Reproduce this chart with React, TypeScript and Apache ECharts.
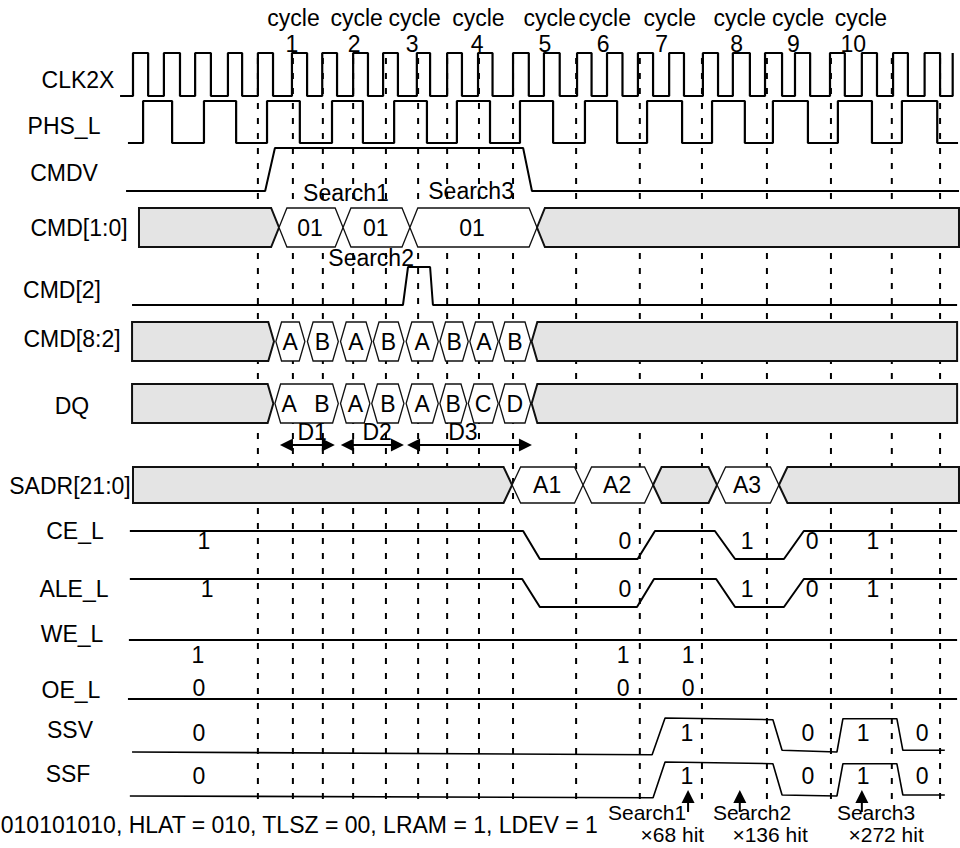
import React, { useEffect, useRef } from "react";
import * as echarts from "echarts";

// ---- time axis: 1 unit = one CLK2X period ----
const T_MIN = -4.217;
const T_MAX = 26.222;
const Y_MIN = 0;
const Y_MAX = 848;

// ---- data (times in CLK2X periods) ----
const cycleWord = "cycle";
const cycleNumbers = ["1", "2", "3", "4", "5", "6", "7", "8", "9", "10"];
const cycleWordTimes = [5.09, 7.09, 8.93, 10.95, 13.21, 14.96, 17.02, 19.24, 21.09, 23.08];
const cycleNumberTimes = [5.04, 7.01, 8.85, 10.91, 13.06, 14.91, 16.76, 19.14, 20.94, 22.84];

const signalNames = ["CLK2X", "PHS_L", "CMDV", "CMD[1:0]", "CMD[2]", "CMD[8:2]", "DQ", "SADR[21:0]", "CE_L", "ALE_L", "WE_L", "OE_L", "SSV", "SSF"];

const clkRises = [0, 0.98, 1.97, 3.01, 3.96, 5.04, 6.0, 6.98, 7.93, 9.0, 9.96, 10.94, 12.05, 13.03, 14.08, 15.03, 16.01, 17.0, 18.07, 19.02, 20.04, 20.99, 22.1, 23.11, 24.1, 25.1, 25.99];
const clkFalls = [0.48, 1.49, 2.47, 3.46, 4.44, 5.52, 6.47, 7.45, 8.4, 9.42, 10.43, 11.4, 12.55, 13.53, 14.54, 15.52, 16.49, 17.47, 18.55, 19.56, 20.58, 21.47, 22.57, 23.59, 24.57, 25.59];
const phsRises = [0.32, 2.25, 4.25, 6.31, 8.28, 10.27, 12.27, 14.33, 16.3, 18.36, 20.29, 22.35, 24.38];
const phsFalls = [1.24, 3.27, 5.29, 7.29, 9.32, 11.32, 13.32, 15.35, 17.41, 19.4, 21.4, 23.43, 25.5];

// [time, level]
const cmdvWave = [[-0.22, 0], [4.19, 0], [4.5, 1], [12.37, 1], [12.65, 0], [26.19, 0]];
const cmd2Wave = [[-0.03, 0], [8.56, 0], [8.72, 1], [9.42, 1], [9.51, 0], [26.13, 0]];
const ceWave = [[-0.1, 1], [12.37, 1], [12.9, 0], [16.0, 0], [16.55, 1], [18.45, 1], [19.09, 0], [20.64, 0], [21.27, 1], [26.13, 1]];
const aleWave = [[-0.1, 1], [12.34, 1], [12.9, 0], [15.98, 0], [16.52, 1], [18.49, 1], [19.09, 0], [20.64, 0], [21.27, 1], [26.13, 1]];
const weWave = [[-0.13, 1], [26.13, 1]];
const oeWave = [[-0.16, 0], [26.13, 0]];
const ssvWave = [[-0.03, 0], [16.46, -0.08], [16.87, 1], [20.29, 0.95], [20.58, 0.05], [22.32, 0], [22.51, 0.98], [24.22, 0.98], [24.41, 0.05], [25.74, 0.05]];
const ssfWave = [[-0.1, 0], [16.49, -0.05], [16.87, 1], [20.29, 0.95], [20.58, 0.03], [22.32, 0], [22.51, 0.95], [24.22, 0.95], [24.41, 0.03], [25.74, 0.03]];

// value labels [time, text]
const ceValues = [[2.25, "1"], [15.6, "0"], [19.47, "1"], [21.53, "0"], [23.46, "1"]];
const aleValues = [[2.35, "1"], [15.6, "0"], [19.47, "1"], [21.53, "0"], [23.46, "1"]];
const weValues = [[2.06, "1"], [15.54, "1"], [17.6, "1"]];
const oeValues = [[2.09, "0"], [15.54, "0"], [17.6, "0"]];
const ssvValues = [[2.09, "0"], [17.56, "1"], [21.4, "0"], [23.15, "1"], [25.02, "0"]];
const ssfValues = [[2.09, "0"], [17.56, "1"], [21.4, "0"], [23.15, "1"], [25.02, "0"]];

// bus segments: [start, end, gray(1)/white(0), flat left, flat right]
const cmd10Segs = [[0.19, 4.63, 1, 1, 0], [4.63, 6.66, 0, 0, 0], [6.66, 8.78, 0, 0, 0], [8.78, 12.81, 0, 0, 0], [12.81, 26.19, 1, 0, 1]];
const cmd82Segs = [[-0.03, 4.47, 1, 1, 0], [4.53, 5.45, 0, 0, 0], [5.53, 6.51, 0, 0, 0], [6.58, 7.57, 0, 0, 0], [7.62, 8.59, 0, 0, 0], [8.66, 9.68, 0, 0, 0], [9.73, 10.63, 0, 0, 0], [10.68, 11.58, 0, 0, 0], [11.61, 12.61, 0, 0, 0], [12.64, 26.13, 1, 0, 1]];
const dqSegs = [[-0.03, 4.45, 1, 1, 0], [4.5, 6.51, 0, 0, 0], [6.58, 7.51, 0, 0, 0], [7.57, 8.59, 0, 0, 0], [8.66, 9.68, 0, 0, 0], [9.73, 10.58, 0, 0, 0], [10.63, 11.58, 0, 0, 0], [11.61, 12.61, 0, 0, 0], [12.64, 26.13, 1, 0, 1]];
const sadrSegs = [[0.0, 12.02, 1, 1, 0], [12.02, 14.27, 0, 0, 0], [14.27, 16.49, 0, 0, 0], [16.49, 18.52, 1, 0, 0], [18.52, 20.48, 0, 0, 0], [20.48, 26.19, 1, 0, 1]];

const cmd10Labels = [[5.61, "01"], [7.7, "01"], [10.75, "01"]];
const cmd82Labels = [[4.98, "A"], [6.01, "B"], [7.07, "A"], [8.1, "B"], [9.17, "A"], [10.18, "B"], [11.13, "A"], [12.11, "B"]];
const dqLabels = [[4.95, "A"], [5.99, "B"], [7.05, "A"], [8.08, "B"], [9.17, "A"], [10.15, "B"], [11.1, "C"], [12.11, "D"]];
const sadrLabels = [[13.13, "A1"], [15.35, "A2"], [19.47, "A3"]];

const gridTimes = [3.96, 5.07, 6.02, 6.98, 8.02, 9.04, 9.96, 10.97, 12.05, 14.05, 16.07, 18.04, 20.1, 22.13, 24.06, 25.59];

const searchCmdLabels = [[6.75, "Search1"], [7.55, "Search2"], [10.72, "Search3"]];
const spanArrows = [[4.66, 6.4], [6.59, 8.59], [8.69, 12.65]];
const spanLabels = [[5.68, "D1"], [7.74, "D2"], [10.46, "D3"]];
const hitArrowTimes = [17.6, 19.24, 23.11];
const hitSearchLabels = [[16.3, "Search1"], [19.63, "Search2"], [23.56, "Search3"]];
const hitCountLabels = [[17.1, "×68 hit"], [20.2, "×136 hit"], [23.88, "×272 hit"]];
const footNote = "010101010, HLAT = 010, TLSZ = 00, LRAM = 1, LDEV = 1";
const footNoteEnd = 14.74;

// ---- layout (pixels on the y scale) ----
const NAME_POS = [[78, 80], [64, 126], [64, 173], [79, 228], [62, 290], [72, 339], [72, 406], [70, 486], [75, 531], [74, 589], [72, 634], [71, 690], [70, 730], [68, 774]];
const ROW = {
  clk: { hi: 53, lo: 96 },
  phs: { hi: 101, lo: 143 },
  cmdv: { hi: 148, lo: 191 },
  cmd2: { hi: 267, lo: 305 },
  ce: { hi: 531, lo: 559, text: 541 },
  ale: { hi: 579, lo: 607, text: 589 },
  we: { hi: 640, lo: 640, text: 655 },
  oe: { hi: 699, lo: 699, text: 688 },
  ssv: { hi: 718, lo: 752, text: 733 },
  ssf: { hi: 762, lo: 796, text: 776 },
};
const BUS = {
  cmd10: { top: 208, bot: 247, slope: 0.25 },
  cmd82: { top: 322, bot: 361, slope: 0.18 },
  dq: { top: 384, bot: 423, slope: 0.18 },
  sadr: { top: 467, bot: 503, slope: 0.27 },
};
const CYCLE_WORD_Y = 18;
const CYCLE_NUM_Y = 44;
const SEARCH_Y = { Search1: 193, Search2: 258, Search3: 191 };
const SPAN_Y = 445;
const SPAN_LABEL_Y = 432;
const HIT_ARROW = { tip: 790, base: 812 };
const HIT_SEARCH_Y = 812;
const HIT_COUNT_Y = 834;
const FOOT_Y = 825;
const DASH = { top: 58, bot: 806 };

const FONT = "'Liberation Sans', Arial, Helvetica, sans-serif";
const FS = 23;
const FS_HIT = 21;

function edgesToWave(start: number, end: number, startLevel: number, rises: number[], falls: number[]) {
  const ev = [...rises.map((t) => [t, 1]), ...falls.map((t) => [t, 0])].sort((a, b) => a[0] - b[0]);
  let lvl = startLevel;
  const pts: number[][] = [[start, lvl]];
  for (const [t, l] of ev) {
    pts.push([t, lvl]);
    pts.push([t, l]);
    lvl = l;
  }
  const last = ev[ev.length - 1][0];
  if (end > last) pts.push([end, lvl]);
  return pts;
}

function textEl(x: number, y: number, text: string, align = "center", size = FS) {
  return {
    type: "text",
    x,
    y,
    style: {
      text,
      fill: "#000",
      fontSize: size,
      fontFamily: FONT,
      align,
      textAlign: align,
      verticalAlign: "middle",
      textVerticalAlign: "middle",
    },
  };
}

export default function App() {
  const ref = useRef<HTMLDivElement>(null);

  useEffect(() => {
    document.body.style.margin = "0";
    if (!ref.current) return;
    const chart = echarts.init(ref.current, undefined, { renderer: "svg" });

    const lineSeries = (pts: number[][], row: { hi: number; lo: number }, width = 2) => ({
      type: "line",
      data: pts.map(([t, l]) => [t, row.lo - l * (row.lo - row.hi)]),
      symbol: "none",
      showSymbol: false,
      lineStyle: { color: "#000", width },
      clip: false,
      silent: true,
      z: 3,
    });

    const busSeries = (segs: number[][], bus: { top: number; bot: number; slope: number }) => ({
      type: "custom",
      data: segs.map((s) => [s[0], s[1], s[2], s[3], s[4]]),
      clip: false,
      silent: true,
      z: 4,
      renderItem: (_p: any, api: any) => {
        const tS = api.value(0), tE = api.value(1), g = api.value(2), fl = api.value(3), fr = api.value(4);
        const a = api.coord([tS, bus.top]);
        const b = api.coord([tE, bus.bot]);
        const xs = a[0], yt = a[1], xe = b[0], yb = b[1];
        const ym = (yt + yb) / 2;
        const s = api.size([bus.slope, 0])[0];
        const pts: number[][] = [];
        if (fl) { pts.push([xs, yb], [xs, yt]); } else { pts.push([xs, ym], [xs + s, yt]); }
        if (fr) { pts.push([xe, yt], [xe, yb]); } else { pts.push([xe - s, yt], [xe, ym], [xe - s, yb]); }
        if (!fl) pts.push([xs + s, yb]);
        return {
          type: "polygon",
          shape: { points: pts },
          style: { fill: g ? "#e4e4e4" : "#ffffff", stroke: "#111", lineWidth: g ? 2 : 1.3 },
        };
      },
    });

    // collect data-positioned texts
    const texts: { t: number; y: number; text: string; align?: string; size?: number }[] = [];
    cycleWordTimes.forEach((t) => texts.push({ t, y: CYCLE_WORD_Y, text: cycleWord }));
    cycleNumberTimes.forEach((t, i) => texts.push({ t, y: CYCLE_NUM_Y, text: cycleNumbers[i] }));
    const addBusLabels = (labels: any[], bus: { top: number; bot: number }) =>
      labels.forEach(([t, s]) => texts.push({ t, y: (bus.top + bus.bot) / 2, text: s }));
    addBusLabels(cmd10Labels, BUS.cmd10);
    addBusLabels(cmd82Labels, BUS.cmd82);
    addBusLabels(dqLabels, BUS.dq);
    addBusLabels(sadrLabels, BUS.sadr);
    const addRowValues = (vals: any[], row: { text: number }) =>
      vals.forEach(([t, s]) => texts.push({ t, y: row.text, text: s }));
    addRowValues(ceValues, ROW.ce as any);
    addRowValues(aleValues, ROW.ale as any);
    addRowValues(weValues, ROW.we as any);
    addRowValues(oeValues, ROW.oe as any);
    addRowValues(ssvValues, ROW.ssv as any);
    addRowValues(ssfValues, ROW.ssf as any);
    searchCmdLabels.forEach(([t, s]: any) => texts.push({ t, y: (SEARCH_Y as any)[s], text: s }));
    spanLabels.forEach(([t, s]: any) => texts.push({ t, y: SPAN_LABEL_Y, text: s }));
    hitSearchLabels.forEach(([t, s]: any) => texts.push({ t, y: HIT_SEARCH_Y, text: s, size: FS_HIT }));
    hitCountLabels.forEach(([t, s]: any) => texts.push({ t, y: HIT_COUNT_Y, text: s, size: FS_HIT }));
    texts.push({ t: footNoteEnd, y: FOOT_Y, text: footNote, align: "right" });

    const option: any = {
      animation: false,
      grid: { left: 0, right: 0, top: 0, bottom: 0 },
      xAxis: { type: "value", min: T_MIN, max: T_MAX, show: false },
      yAxis: { type: "value", min: Y_MIN, max: Y_MAX, inverse: true, show: false },
      graphic: signalNames.map((n, i) => textEl(NAME_POS[i][0], NAME_POS[i][1], n)),
      series: [
        {
          type: "custom",
          data: gridTimes.map((t) => [t, 0]),
          clip: false,
          silent: true,
          z: 1,
          renderItem: (_p: any, api: any) => {
            const t = api.value(0);
            const a = api.coord([t, DASH.top]);
            const b = api.coord([t, DASH.bot]);
            return {
              type: "line",
              shape: { x1: a[0], y1: a[1], x2: b[0], y2: b[1] },
              style: { stroke: "#000", lineWidth: 2, lineDash: [6, 9] },
            };
          },
        },
        lineSeries(edgesToWave(-0.41, 25.99, 0, clkRises, clkFalls), ROW.clk, 2.2),
        lineSeries(edgesToWave(-0.16, 26.16, 0, phsRises, phsFalls), ROW.phs, 2.2),
        lineSeries(cmdvWave, ROW.cmdv),
        lineSeries(cmd2Wave, ROW.cmd2),
        lineSeries(ceWave, ROW.ce),
        lineSeries(aleWave, ROW.ale),
        lineSeries(weWave, ROW.we),
        lineSeries(oeWave, ROW.oe),
        lineSeries(ssvWave, ROW.ssv, 1.6),
        lineSeries(ssfWave, ROW.ssf, 1.6),
        busSeries(cmd10Segs, BUS.cmd10),
        busSeries(cmd82Segs, BUS.cmd82),
        busSeries(dqSegs, BUS.dq),
        busSeries(sadrSegs, BUS.sadr),
        {
          type: "custom",
          data: spanArrows.map((a) => [a[0], a[1]]),
          clip: false,
          silent: true,
          z: 5,
          renderItem: (_p: any, api: any) => {
            const a = api.coord([api.value(0), SPAN_Y]);
            const b = api.coord([api.value(1), SPAN_Y]);
            const y = a[1], x1 = a[0], x2 = b[0];
            return {
              type: "group",
              children: [
                { type: "line", shape: { x1: x1 + 4, y1: y, x2: x2 - 4, y2: y }, style: { stroke: "#000", lineWidth: 2 } },
                { type: "polygon", shape: { points: [[x1, y], [x1 + 13, y - 6.5], [x1 + 13, y + 6.5]] }, style: { fill: "#000" } },
                { type: "polygon", shape: { points: [[x2, y], [x2 - 13, y - 6.5], [x2 - 13, y + 6.5]] }, style: { fill: "#000" } },
              ],
            };
          },
        },
        {
          type: "custom",
          data: hitArrowTimes.map((t) => [t, HIT_ARROW.tip]),
          clip: false,
          silent: true,
          z: 5,
          renderItem: (_p: any, api: any) => {
            const a = api.coord([api.value(0), HIT_ARROW.tip]);
            const b = api.coord([api.value(0), HIT_ARROW.base]);
            const x = a[0], yt = a[1], yb = b[1];
            return {
              type: "group",
              children: [
                { type: "line", shape: { x1: x, y1: yt + 6, x2: x, y2: yb }, style: { stroke: "#000", lineWidth: 2 } },
                { type: "polygon", shape: { points: [[x, yt], [x - 6.5, yt + 13], [x + 6.5, yt + 13]] }, style: { fill: "#000" } },
              ],
            };
          },
        },
        {
          type: "custom",
          data: texts.map((d) => [d.t, d.y]),
          clip: false,
          silent: true,
          z: 6,
          renderItem: (p: any, api: any) => {
            const d = texts[p.dataIndex];
            const c = api.coord([d.t, d.y]);
            return textEl(c[0], c[1], d.text, d.align || "center", d.size || FS);
          },
        },
      ],
    };

    chart.setOption(option);
    return () => chart.dispose();
  }, []);

  return (
    <div
      ref={ref}
      style={{ position: "absolute", left: 0, top: 0, width: 960, height: 848, background: "#fff" }}
    />
  );
}
